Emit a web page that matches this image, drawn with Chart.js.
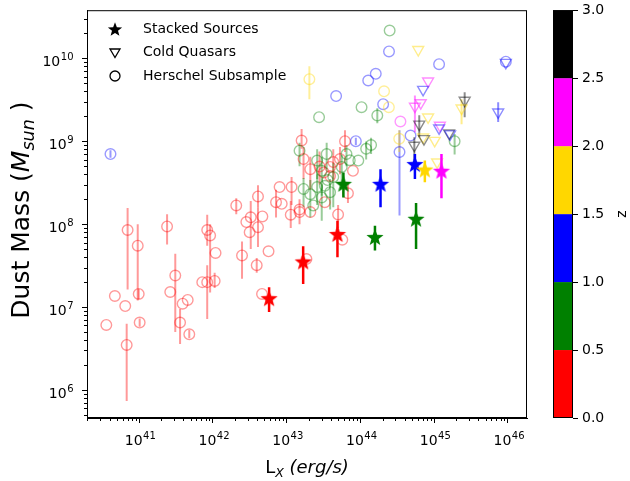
<!DOCTYPE html>
<html>
<head>
<meta charset="utf-8">
<script src="https://cdn.jsdelivr.net/npm/chart.js@4"></script>
<style>
  html, body { margin: 0; padding: 0; background: #fff; }
</style>
</head>
<body>
<canvas id="chart" width="630" height="481"></canvas>
<script>
// HERSCHEL SUBSAMPLE (circles)
const herLx = [
  3.6e40, 4.7e40, 6.5e40, 7.0e40, 6.8e40, 9.6e40, 9.9e40, 1.02e41, 2.4e41, 2.65e41,
  3.1e41, 3.6e41, 3.9e41, 4.57e41, 4.8e41, 7.2e41, 8.4e41, 1.06e42, 8.4e41, 9.2e41,
  1.09e42, 2.08e42, 2.49e42, 3.94e42, 5.7e42, 4.1e42, 3.27e42, 2.85e42, 4.7e42, 3.16e42,
  4.1e42, 8.05e42, 7.2e42, 8.6e42, 4.65e42, 1.6e43, 6.2e43, 1.17e43, 1.14e43, 1.5e43,
  2.1e43, 5.0e43, 6.8e43, 7.95e43, 1.7e43, 2.1e43, 2.8e43, 3.9e43, 4.3e43, 5.3e43,
  3.2e43, 3.9e43, 5.7e43, 1.86e43, 3.3e43, 1.5e43,
  2.5e44, 1.04e44, 2.76e43, 1.7e44, 1.9e45, 1.5e43, 3.5e43, 6.5e43, 1.2e44, 1.4e44,
  2.6e43, 3.0e43, 9.4e43, 1.7e43, 2.6e43, 3.3e43, 3.9e43, 2.1e43, 3.0e43, 4.3e43,
  2.3e43, 5.6e43, 3.6e43, 7.2e43,
  4.1e40, 8.7e43, 4.7e43, 1.28e44, 1.62e44, 2.45e44, 1.17e45, 9.4e45, 2.04e44, 4.8e44, 3.4e44,
  2.04e43, 2.1e44, 2.44e44, 3.37e44,
  3.5e44
];
const herMd = [
  6.1e6, 1.36e7, 1.03e7, 8.5e7, 3.5e6, 5.5e7, 1.44e7, 6.5e6, 9.4e7, 1.52e7,
  2.4e7, 6.5e6, 1.1e7, 1.22e7, 4.7e6, 2.0e7, 2.0e7, 2.07e7, 8.5e7, 7.3e7,
  4.5e7, 1.68e8, 4.2e7, 3.2e7, 4.7e7, 2.16e8, 1.21e8, 1.06e8, 1.24e8, 8.0e7,
  9.2e7, 2.8e8, 1.84e8, 1.76e8, 1.44e7, 1.02e9, 1.0e9, 2.8e8, 1.3e8, 1.4e8,
  1.4e8, 1.31e8, 2.36e8, 4.4e8, 6.1e8, 4.6e8, 4.95e8, 4.9e8, 5.6e8, 6.1e8,
  4.2e8, 3.8e8, 6.5e7, 3.8e7, 1.84e8, 1.5e8,
  2.16e10, 2.57e9, 1.95e9, 2.04e9, 1.0e9, 7.7e8, 7.0e8, 7.0e8, 8.1e8, 9.0e8,
  5.85e8, 4.4e8, 5.85e8, 2.66e8, 2.8e8, 2.9e8, 2.43e8, 2.3e8, 2.1e8, 3.7e8,
  1.68e8, 4.9e8, 3.4e8, 5.9e8,
  7.0e8, 1.0e9, 3.5e9, 5.4e9, 6.5e9, 1.21e10, 8.5e9, 9.1e9, 2.8e9, 1.17e9, 7.4e8,
  5.6e9, 4.0e9, 2.57e9, 1.07e9,
  1.73e9
];
const herZ = [
  0.25, 0.25, 0.25, 0.25, 0.25, 0.25, 0.25, 0.25, 0.25, 0.25,
  0.25, 0.25, 0.25, 0.25, 0.25, 0.25, 0.25, 0.25, 0.25, 0.25,
  0.25, 0.25, 0.25, 0.25, 0.25, 0.25, 0.25, 0.25, 0.25, 0.25,
  0.25, 0.25, 0.25, 0.25, 0.25, 0.25, 0.25, 0.25, 0.25, 0.25,
  0.25, 0.25, 0.25, 0.25, 0.25, 0.25, 0.25, 0.25, 0.25, 0.25,
  0.25, 0.25, 0.25, 0.25, 0.25, 0.25,
  0.75, 0.75, 0.75, 0.75, 0.75, 0.75, 0.75, 0.75, 0.75, 0.75,
  0.75, 0.75, 0.75, 0.75, 0.75, 0.75, 0.75, 0.75, 0.75, 0.75,
  0.75, 0.75, 0.75, 0.75,
  1.25, 1.25, 1.25, 1.25, 1.25, 1.25, 1.25, 1.25, 1.25, 1.25, 1.25,
  1.75, 1.75, 1.75, 1.75,
  2.25
];
const herLo = [
  null, null, null, 1.63e7, 7.4e5, 1.2e7, 1.25e7, 5.8e6, 5.7e7, null,
  5.0e6, 3.6e6, null, null, 4.2e6, null, 7.2e6, 1.7e7, 5.5e7, 1.5e7,
  null, 1.32e8, 2.2e7, 2.6e7, null, 1.6e8, 5.0e7, null, null, null,
  5.3e7, null, 1.2e8, null, null, 8.1e8, 7.4e8, 1.7e8, 9.0e7, 1.0e8,
  null, 9.0e7, 1.8e8, null, 3.5e8, 2.6e8, 3.0e8, null, 3.5e8, 4.0e8,
  null, null, null, null, null, null,
  null, null, null, 1.65e9, 6.9e8, 5.0e8, 4.6e8, 5.0e8, 6.0e8, 7.0e8,
  3.5e8, 2.2e8, null, 1.6e8, 1.7e8, null, 1.5e8, 1.2e8, 1.1e8, 1.6e8,
  null, 3.0e8, null, null,
  6.3e8, 9.0e8, null, null, null, null, null, null, null, null, 1.27e8,
  3.2e9, null, null, 7.4e8,
  null
];
const herHi = [
  null, null, null, 1.57e8, 6.3e6, 1.0e8, 1.65e7, 7.3e6, 1.32e8, null,
  4.4e7, 9.5e6, null, null, 5.3e6, null, 3.2e7, 2.6e7, 1.3e8, 1.0e8,
  null, 2.06e8, 6.2e7, 3.9e7, null, 2.95e8, 1.9e8, null, null, null,
  1.6e8, null, 2.6e8, null, null, 1.4e9, 1.36e9, 3.7e8, 1.9e8, 2.0e8,
  null, 1.7e8, 3.2e8, null, 8.5e8, 6.5e8, 7.5e8, null, 8.0e8, 8.5e8,
  null, null, null, null, null, null,
  null, null, null, 2.5e9, 1.22e9, 9.6e8, 9.6e8, 9.0e8, 9.9e8, 1.1e9,
  8.0e8, 6.5e8, null, 3.6e8, 4.0e8, null, 3.5e8, 3.4e8, 3.0e8, 5.5e8,
  null, 6.8e8, null, null,
  7.8e8, 1.1e9, null, null, null, null, null, null, null, null, 1.36e9,
  8.0e9, null, null, 1.36e9,
  null
];

// COLD QUASARS (triangles)
const cqLx = [6.1e44, 8.3e44, 7.1e44, 6.6e44, 5.5e44, 8.3e44, 6.3e44, 1.2e45, 1.17e45, 1.6e45,
              1.65e45, 7.1e44, 7.3e44, 1.02e45, 5.4e44, 2.6e45, 2.36e45, 7.4e45, 9.4e45, 1.1e45];
const cqMd = [1.27e10, 5.3e9, 4.2e9, 2.9e9, 2.63e9, 1.95e9, 1.6e9, 1.55e9, 1.44e9, 1.25e9,
              1.22e9, 1.12e9, 1.07e9, 1.02e9, 8.9e8, 3.1e9, 2.5e9, 2.24e9, 8.9e9, 5.6e8];
const cqZ  = [1.75, 2.25, 1.25, 2.25, 2.25, 1.75, 2.75, 2.25, 1.25, 2.75,
              1.25, 1.75, 2.75, 1.75, 2.75, 2.75, 1.75, 1.25, 1.25, 1.75];
const cqLo = [null, null, null, null, 1.28e9, null, 1.12e9, null, null, null,
              null, null, null, null, 5.9e8, 1.95e9, 1.6e9, 1.7e9, null, null];
const cqHi = [null, null, null, null, 3.55e9, null, 2.06e9, null, null, null,
              null, null, null, null, 1.12e9, 3.9e9, 3.2e9, 2.95e9, null, null];

// STACKED SOURCES (stars)
const stLx = [5.8e42, 1.68e43, 4.9e43, 5.9e43, 1.58e44, 5.7e44, 1.88e44, 5.5e44, 7.5e44, 1.26e45];
const stMd = [1.28e7, 3.55e7, 7.6e7, 3.06e8, 7.0e7, 1.16e8, 3.06e8, 5.3e8, 4.56e8, 4.4e8];
const stZ  = [0.25, 0.25, 0.25, 0.75, 0.75, 0.75, 1.25, 1.25, 1.75, 2.25];
const stLo = [8.7e6, 1.9e7, 4.0e7, 2.1e8, 4.8e7, 5.0e7, 1.6e8, 3.5e8, 3.2e8, 2.06e8];
const stHi = [1.74e7, 5.4e7, 1.1e8, 4.2e8, 9.6e7, 1.8e8, 4.6e8, 7.0e8, 5.85e8, 7.0e8];

// AXES / COLORBAR
const xTicks = [1e41, 1e42, 1e43, 1e44, 1e45, 1e46];
const yTicks = [1e6, 1e7, 1e8, 1e9, 1e10];
const zTicks = [0.0, 0.5, 1.0, 1.5, 2.0, 2.5, 3.0];
const zColors = ['#ff0000', '#008000', '#0000ff', '#ffd700', '#ff00ff', '#000000'];

const FONT = "'DejaVu Sans', sans-serif";

function zIndex(z) {
  return Math.min(zColors.length - 1, Math.floor(z / 0.5));
}
function zColor(z, a) {
  const h = zColors[zIndex(z)];
  const r = parseInt(h.slice(1, 3), 16), g = parseInt(h.slice(3, 5), 16), b = parseInt(h.slice(5, 7), 16);
  return 'rgba(' + r + ',' + g + ',' + b + ',' + a + ')';
}
function expOf(v) {
  return String(Math.round(Math.log10(v)));
}

function starPath(g, cx, cy, r) {
  g.beginPath();
  for (let i = 0; i < 10; i++) {
    const rr = i % 2 ? r * 0.42 : r;
    const a = -Math.PI / 2 + i * Math.PI / 5;
    g.lineTo(cx + rr * Math.cos(a), cy + rr * Math.sin(a));
  }
  g.closePath();
}
function makeStar(color, r) {
  const c = document.createElement('canvas');
  const s = Math.ceil(2 * r + 2);
  c.width = s; c.height = s;
  const g = c.getContext('2d');
  g.fillStyle = color;
  starPath(g, s / 2, s / 2 + 0.8, r);
  g.fill();
  return c;
}
const starImgs = zColors.map(c => makeStar(c, 9));

const toPoints = (xs, ys) => xs.map((x, i) => ({ x: x, y: ys[i] }));

// error bars drawn under each dataset's markers
const errorBars = {
  id: 'errorBars',
  beforeDatasetDraw(chart, args) {
    const ds = chart.data.datasets[args.index];
    if (!ds.errLo) return;
    const ys = chart.scales.y;
    const g = chart.ctx;
    const area = chart.chartArea;
    g.save();
    g.beginPath();
    g.rect(area.left, area.top, area.right - area.left, area.bottom - area.top);
    g.clip();
    g.lineWidth = ds.errWidth;
    args.meta.data.forEach((el, i) => {
      if (ds.errLo[i] == null) return;
      g.strokeStyle = ds.errColor(i);
      g.beginPath();
      g.moveTo(el.x, ys.getPixelForValue(ds.errLo[i]));
      g.lineTo(el.x, ys.getPixelForValue(ds.errHi[i]));
      g.stroke();
    });
    g.restore();
  }
};

function drawRich(g, parts, x, y, angle) {
  g.save();
  g.translate(x, y);
  g.rotate(angle);
  g.textBaseline = 'alphabetic';
  g.textAlign = 'left';
  let total = 0;
  parts.forEach(p => { g.font = p.f; p.w = g.measureText(p.t).width; total += p.w; });
  let cx = -total / 2;
  parts.forEach(p => { g.font = p.f; g.fillText(p.t, cx, p.dy || 0); cx += p.w; });
  g.restore();
}

// "10" with a raised exponent, like matplotlib's mathtext tick labels
function powLabel(g, v, x, baseline, align) {
  const base = '10', e = expOf(v);
  g.font = '14px ' + FONT;
  const wb = g.measureText(base).width;
  g.font = '10px ' + FONT;
  const we = g.measureText(e).width;
  const x0 = align === 'right' ? x - wb - we : x - (wb + we) / 2;
  g.font = '14px ' + FONT;
  g.fillText(base, x0, baseline);
  g.font = '10px ' + FONT;
  g.fillText(e, x0 + wb + 0.5, baseline - 6.5);
}

// frame, minor ticks, tick labels, axis titles, legend, colorbar
const decor = {
  id: 'decor',
  afterDraw(chart) {
    const g = chart.ctx;
    const a = chart.chartArea;
    const xs = chart.scales.x, ys = chart.scales.y;
    g.save();
    g.strokeStyle = '#000';
    g.fillStyle = '#000';
    g.lineWidth = 1;
    g.strokeRect(a.left + 0.5, a.top + 0.5, a.right - a.left - 1, a.bottom - a.top - 1);

    // minor ticks
    g.beginPath();
    for (let e = 40; e <= 46; e++) {
      for (let m = 2; m <= 9; m++) {
        const v = m * Math.pow(10, e);
        if (v < xs.min || v > xs.max) continue;
        const px = Math.round(xs.getPixelForValue(v)) + 0.5;
        g.moveTo(px, a.bottom); g.lineTo(px, a.bottom + 3);
      }
    }
    for (let e = 5; e <= 10; e++) {
      for (let m = 2; m <= 9; m++) {
        const v = m * Math.pow(10, e);
        if (v < ys.min || v > ys.max) continue;
        const py = Math.round(ys.getPixelForValue(v)) + 0.5;
        g.moveTo(a.left, py); g.lineTo(a.left - 3, py);
      }
    }
    g.stroke();

    // tick labels
    g.textBaseline = 'alphabetic';
    g.textAlign = 'left';
    xs.ticks.forEach(t => powLabel(g, t.value, xs.getPixelForValue(t.value) + 1, a.bottom + 27, 'center'));
    ys.ticks.forEach(t => powLabel(g, t.value, a.left - 14, ys.getPixelForValue(t.value) + 8, 'right'));

    // axis titles
    drawRich(g, [
      { t: 'L', f: '18px ' + FONT },
      { t: 'X', f: 'italic 12.5px ' + FONT, dy: 4 },
      { t: ' (erg/s)', f: 'italic 18px ' + FONT }
    ], (a.left + a.right) / 2, 473, 0);
    drawRich(g, [
      { t: 'Dust Mass (', f: '25px ' + FONT },
      { t: 'M', f: 'italic 25px ' + FONT },
      { t: 'sun', f: 'italic 17.5px ' + FONT, dy: 5 },
      { t: ' )', f: '25px ' + FONT }
    ], 29, (a.top + a.bottom) / 2 - 4, -Math.PI / 2);

    // legend
    const lx = 115, tx = 143, rows = [29, 52.5, 76];
    g.font = '14px ' + FONT;
    g.textBaseline = 'middle';
    g.textAlign = 'left';
    starPath(g, lx, rows[0] + 0.8, 7.5);
    g.fill();
    g.fillText('Stacked Sources', tx, rows[0]);
    g.lineWidth = 1.3;
    g.beginPath();
    g.moveTo(lx - 5, rows[1] - 3.5); g.lineTo(lx + 5, rows[1] - 3.5); g.lineTo(lx, rows[1] + 5); g.closePath();
    g.stroke();
    g.fillText('Cold Quasars', tx, rows[1]);
    g.beginPath();
    g.arc(lx, rows[2], 5, 0, Math.PI * 2);
    g.stroke();
    g.fillText('Herschel Subsample', tx, rows[2]);

    // colorbar
    const cbL = 553, cbR = 573, zMax = zTicks[zTicks.length - 1];
    const zy = z => a.bottom - (a.bottom - a.top) * z / zMax;
    zColors.forEach((c, i) => {
      g.fillStyle = c;
      const y0 = zy(i * 0.5), y1 = zy((i + 1) * 0.5);
      g.fillRect(cbL, y1, cbR - cbL, y0 - y1);
    });
    g.lineWidth = 1;
    g.strokeStyle = '#000';
    g.strokeRect(cbL + 0.5, a.top + 0.5, cbR - cbL - 1, a.bottom - a.top - 1);
    g.fillStyle = '#000';
    g.font = '14px ' + FONT;
    g.textBaseline = 'middle';
    g.beginPath();
    zTicks.forEach(z => {
      const py = Math.round(zy(z)) + 0.5;
      g.moveTo(cbR, py); g.lineTo(cbR + 5, py);
      g.fillText(z.toFixed(1), cbR + 9, py);
    });
    g.stroke();
    g.save();
    g.translate(622, (a.top + a.bottom) / 2);
    g.rotate(-Math.PI / 2);
    g.textAlign = 'center';
    g.textBaseline = 'middle';
    g.fillText('z', 0, 0);
    g.restore();
    g.restore();
  }
};

new Chart(document.getElementById('chart'), {
  type: 'scatter',
  data: {
    datasets: [
      {
        label: 'Stacked Sources',
        data: toPoints(stLx, stMd),
        pointStyle: c => starImgs[zIndex(stZ[c.dataIndex])],
        pointRadius: 9,
        errLo: stLo, errHi: stHi, errWidth: 2.5,
        errColor: i => zColor(stZ[i], 1)
      },
      {
        label: 'Cold Quasars',
        data: toPoints(cqLx, cqMd),
        pointStyle: 'triangle',
        rotation: 180,
        pointRadius: 6.3,
        pointBorderWidth: 1.4,
        pointBackgroundColor: 'rgba(0,0,0,0)',
        pointBorderColor: c => zColor(cqZ[c.dataIndex], 0.45),
        errLo: cqLo, errHi: cqHi, errWidth: 2,
        errColor: i => zColor(cqZ[i], 0.45)
      },
      {
        label: 'Herschel Subsample',
        data: toPoints(herLx, herMd),
        pointStyle: 'circle',
        pointRadius: 5.3,
        pointBorderWidth: 1.4,
        pointBackgroundColor: 'rgba(0,0,0,0)',
        pointBorderColor: c => zColor(herZ[c.dataIndex], 0.4),
        errLo: herLo, errHi: herHi, errWidth: 2,
        errColor: i => zColor(herZ[i], 0.4)
      }
    ]
  },
  options: {
    responsive: false,
    animation: false,
    devicePixelRatio: 1,
    events: [],
    layout: { padding: { top: 8, right: 103, left: 0, bottom: 0 } },
    plugins: { legend: { display: false }, tooltip: { enabled: false } },
    scales: {
      x: {
        type: 'logarithmic',
        min: 1.97e40,
        max: 1.82e46,
        afterBuildTicks: s => { s.ticks = xTicks.map(v => ({ value: v })); },
        afterFit: s => { s.height = 63; },
        ticks: { callback: () => '', autoSkip: false, maxRotation: 0, minRotation: 0 },
        grid: { drawOnChartArea: false, drawTicks: true, tickLength: 5, color: '#000' },
        border: { display: true, color: '#000' }
      },
      y: {
        type: 'logarithmic',
        min: 4.6e5,
        max: 3.8e10,
        afterBuildTicks: s => { s.ticks = yTicks.map(v => ({ value: v })); },
        afterFit: s => { s.width = 87; },
        ticks: { callback: () => '', autoSkip: false },
        grid: { drawOnChartArea: false, drawTicks: true, tickLength: 5, color: '#000' },
        border: { display: true, color: '#000' }
      }
    }
  },
  plugins: [errorBars, decor]
});
</script>
</body>
</html>
